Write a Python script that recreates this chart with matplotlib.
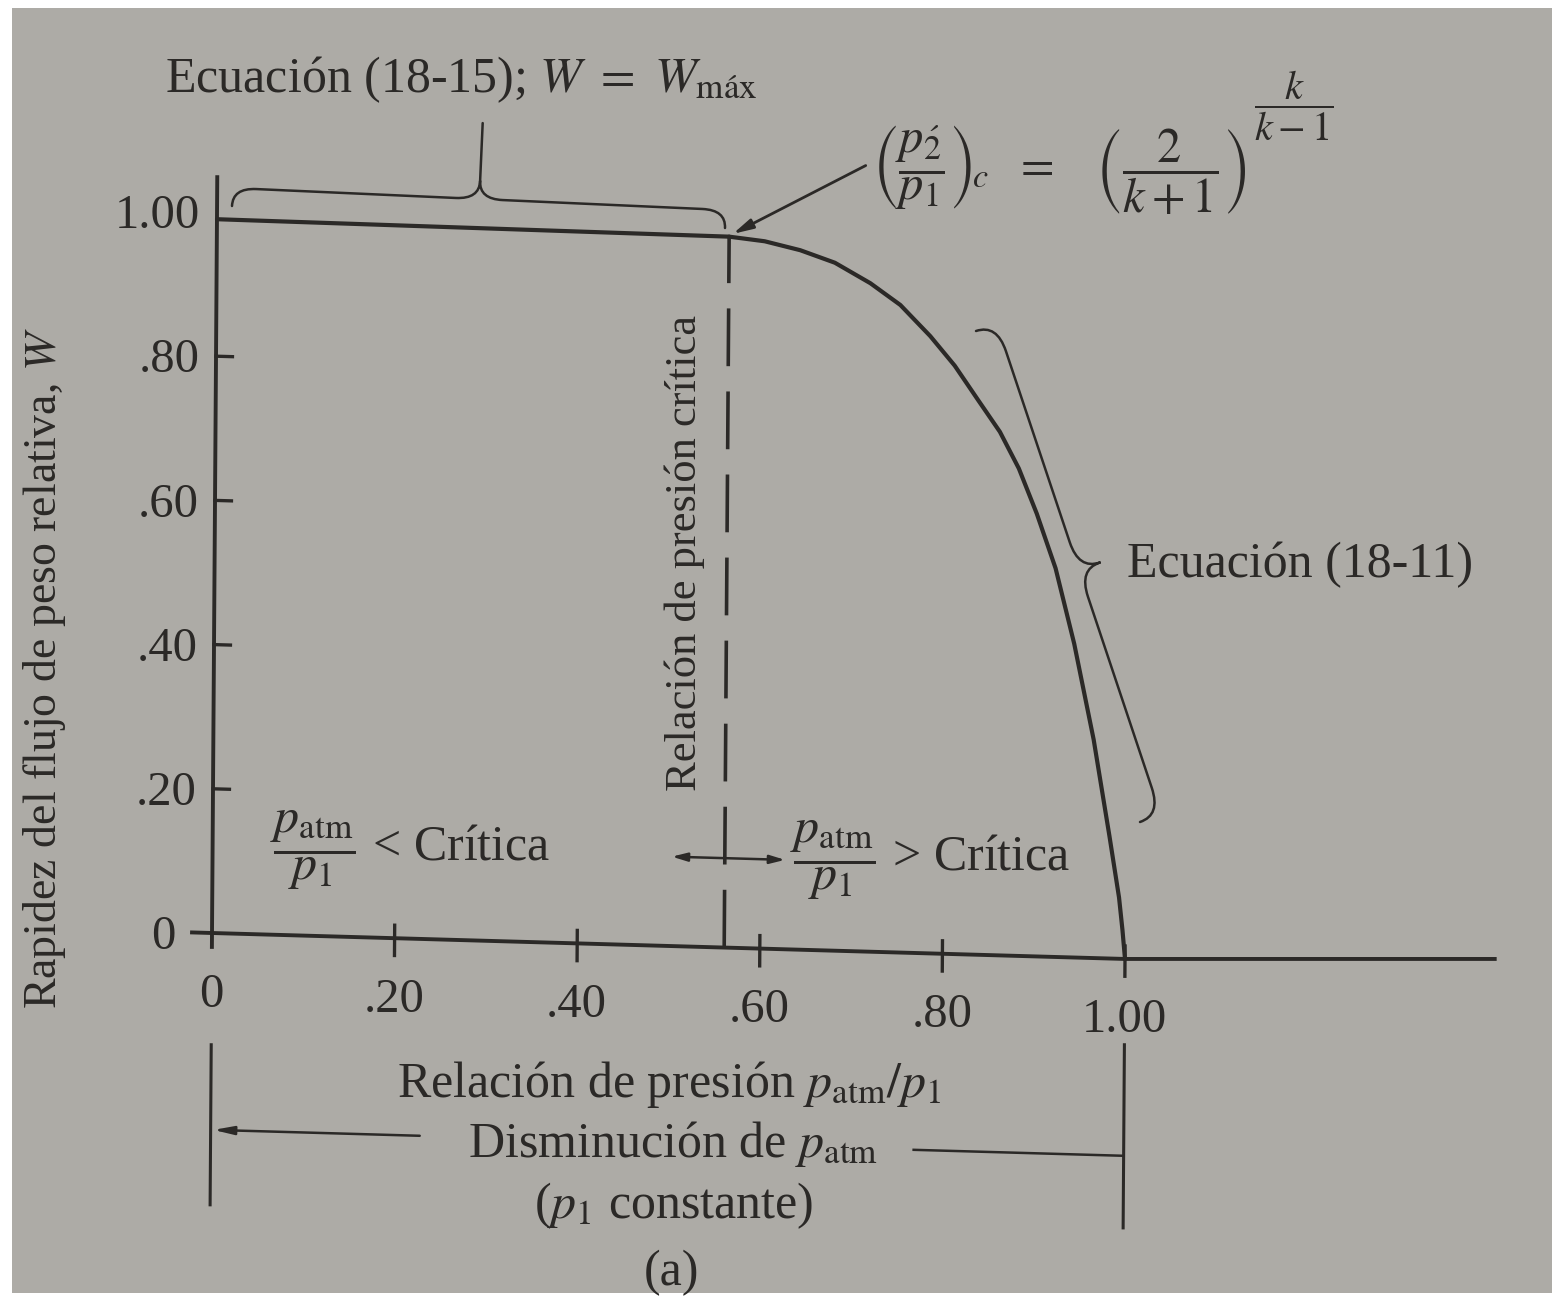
import numpy as np
import matplotlib.pyplot as plt
from matplotlib.transforms import Affine2D
from matplotlib.path import Path
from matplotlib.patches import PathPatch, Rectangle

plt.rcParams['font.family'] = ['Liberation Serif', 'DejaVu Serif']
plt.rcParams['mathtext.fontset'] = 'stix'

# relative weight flow W against pressure ratio p_atm/p1
r_flat = [0.0, 0.561]
w_flat = [0.990, 0.986]
r_curve = [0.561, 0.600, 0.639, 0.677, 0.716, 0.749, 0.782, 0.809, 0.835, 0.859,
           0.880, 0.900, 0.921, 0.942, 0.964, 0.982, 0.993, 0.997, 1.000]
w_curve = [0.986, 0.981, 0.970, 0.954, 0.927, 0.898, 0.856, 0.816, 0.769, 0.726,
           0.676, 0.614, 0.539, 0.435, 0.303, 0.170, 0.085, 0.040, 0.000]
r_crit = 0.561

xticks = [0.2, 0.4, 0.6, 0.8, 1.0]
xticklabels = ['.20', '.40', '.60', '.80', '1.00']
yticks = [0.2, 0.4, 0.6, 0.8, 1.0]
yticklabels = ['.20', '.40', '.60', '.80', '1.00']

W, H = 1557, 1301
paper = '#adaba6'
ink = '#2b2927'
fs = 36
fs_tick = 35

fig = plt.figure(figsize=(W / 100, H / 100), dpi=100, facecolor='white')
fig.add_artist(Rectangle((12 / W, 8 / H), 1540 / W, 1285 / H, transform=fig.transFigure,
                         facecolor=paper, edgecolor='none', zorder=-10))
ax = fig.add_axes([0, 0, 1, 1])
ax.set_xlim(-212 / 913, (W - 212) / 913)
ax.set_ylim(-(H - 933) / 721, 933 / 721)
ax.axis('off')

# page is a little skewed: x axis drops to the right, y axis leans right
drop = 0.036
tilt = Affine2D(np.array([[1, 0.0055, 0], [-drop, 1, 0], [0, 0, 1]])) + ax.transData
# figure pixels with origin at top left, used for the notes
pix = Affine2D().scale(1 / W, -1 / H).translate(0, 1) + fig.transFigure


def brace(p0, p1, h, stem=0.0, lw=1.8):
    p0 = np.asarray(p0, float)
    p1 = np.asarray(p1, float)
    d = p1 - p0
    L = np.hypot(*d)
    u = d / L
    n = np.array([u[1], -u[0]])
    r = min(1.3 * h, L / 6)

    def P(s, t):
        return p0 + u * s + n * t
    verts = [P(0, 0), P(0, h), P(r, h), P(L / 2 - r, h), P(L / 2, h), P(L / 2, 2 * h)]
    codes = [Path.MOVETO, Path.CURVE3, Path.CURVE3, Path.LINETO, Path.CURVE3, Path.CURVE3]
    if stem:
        verts += [P(L / 2, 2 * h + stem)]
        codes += [Path.LINETO]
    verts += [P(L / 2, 2 * h), P(L / 2, h), P(L / 2 + r, h), P(L - r, h), P(L, h), P(L, 0)]
    codes += [Path.MOVETO, Path.CURVE3, Path.CURVE3, Path.LINETO, Path.CURVE3, Path.CURVE3]
    ax.add_patch(PathPatch(Path(verts, codes), transform=pix, facecolor='none',
                           edgecolor=ink, lw=lw, capstyle='round'))


# axes; past 1.00 the printed axis runs level again
ax.plot([0, 0], [-0.022, 1.051], color=ink, lw=2.8, transform=tilt, solid_capstyle='butt')
ax.plot([-0.024, 1.0, 1.407], [0, 0, drop * 0.407], color=ink, lw=2.8, transform=tilt,
        solid_capstyle='butt')
for x in xticks:
    ax.plot([x, x], [-0.024, 0.018], color=ink, lw=2.4, transform=tilt)
for y in yticks[:-1]:
    ax.plot([0, 0.018], [y, y], color=ink, lw=2.4, transform=tilt)

ax.text(0, -0.102, '0', ha='center', va='baseline', fontsize=fs_tick, color=ink, transform=tilt)
for x, lab in zip(xticks, xticklabels):
    ax.text(x, -0.102, lab, ha='center', va='baseline', fontsize=fs_tick, color=ink,
            transform=tilt)
ax.text(-0.04, -0.023, '0', ha='right', va='baseline', fontsize=fs_tick, color=ink,
        transform=tilt)
for y, lab in zip(yticks, yticklabels):
    ax.text(-0.018, y - 0.023, lab, ha='right', va='baseline', fontsize=fs_tick, color=ink,
            transform=tilt)

# flow curve and critical ratio
ax.plot(r_flat, w_flat, color=ink, lw=3.0, transform=tilt, solid_capstyle='round')
ax.plot(r_curve, w_curve, color=ink, lw=3.0, transform=tilt, solid_capstyle='round',
        solid_joinstyle='round')
ax.plot([r_crit, r_crit], [0, w_curve[0]], color=ink, lw=2.6, transform=tilt,
        dashes=(16, 7))

ax.annotate('', xy=(r_crit + 0.004, w_curve[0] + 0.004), xycoords=tilt,
            xytext=(0.71, 1.09), textcoords=tilt,
            arrowprops=dict(arrowstyle='-|>,head_length=1.2,head_width=0.3', color=ink,
                            lw=2.0, shrinkA=0, shrinkB=0))
for x_end in (0.503, 0.627):
    ax.annotate('', xy=(x_end, 0.124), xycoords=tilt, xytext=(r_crit, 0.124), textcoords=tilt,
                arrowprops=dict(arrowstyle='-|>,head_length=0.9,head_width=0.25', color=ink,
                                lw=1.8, shrinkA=0, shrinkB=0))

# range markers below the axis
ax.plot([0, 0], [-0.155, -0.377], color=ink, lw=2.2, transform=tilt)
ax.plot([1, 1], [-0.119, -0.373], color=ink, lw=2.2, transform=tilt)
ax.annotate('', xy=(0.003, -0.273), xycoords=tilt, xytext=(0.229, -0.273), textcoords=tilt,
            arrowprops=dict(arrowstyle='-|>,head_length=1.2,head_width=0.25', color=ink,
                            lw=1.8, shrinkA=0, shrinkB=0))
ax.plot([0.77, 1.0], [-0.273, -0.273], color=ink, lw=1.8, transform=tilt)

# braces
brace((232, 206), (725, 228), 18, stem=58)
brace((976, 331), (1140, 822), 22)

# labels
kw = dict(fontsize=fs, color=ink, transform=pix)
ax.text(165, 92, r'Ecuación (18-15); $W\ =\ W_{\mathrm{máx}}$', ha='left', va='baseline', **kw)
ax.text(872, 170, r'$\left(\dfrac{p_{\acute{2}}}{p_1}\right)_{\!c}\ \ =\ \ \ '
        r'\left(\dfrac{2}{k+1}\right)$', ha='left', va='center', fontsize=35, color=ink,
        transform=pix)
ax.text(1294, 106, r'$\dfrac{k}{k-1}$', ha='center', va='center', fontsize=29, color=ink,
        transform=pix)
ax.text(1127, 577, 'Ecuación (18-11)', ha='left', va='baseline', **kw)
ax.text(270, 850, r'$\dfrac{p_{\mathrm{atm}}}{p_1}$' + ' < Crítica', ha='left', va='center', **kw)
ax.text(790, 860, r'$\dfrac{p_{\mathrm{atm}}}{p_1}$' + ' > Crítica', ha='left', va='center', **kw)
ax.text(685, 553, 'Relación de presión crítica', rotation=90, ha='center', va='center',
        fontsize=32, color=ink, transform=pix)
ax.text(45, 668, r'Rapidez del flujo de peso relativa, $W$', rotation=90, ha='center',
        va='center', fontsize=33, color=ink, transform=pix)
ax.text(669, 1097, r'Relación de presión $p_{\mathrm{atm}}/p_1$', ha='center', va='baseline', **kw)
ax.text(673, 1157, r'Disminución de $p_{\mathrm{atm}}$', ha='center', va='baseline', **kw)
ax.text(674, 1218, r'($p_1$ constante)', ha='center', va='baseline', **kw)
ax.text(672, 1285, '(a)', ha='center', va='baseline', **kw)

fig.savefig('out.png', dpi=100, facecolor=fig.get_facecolor())
